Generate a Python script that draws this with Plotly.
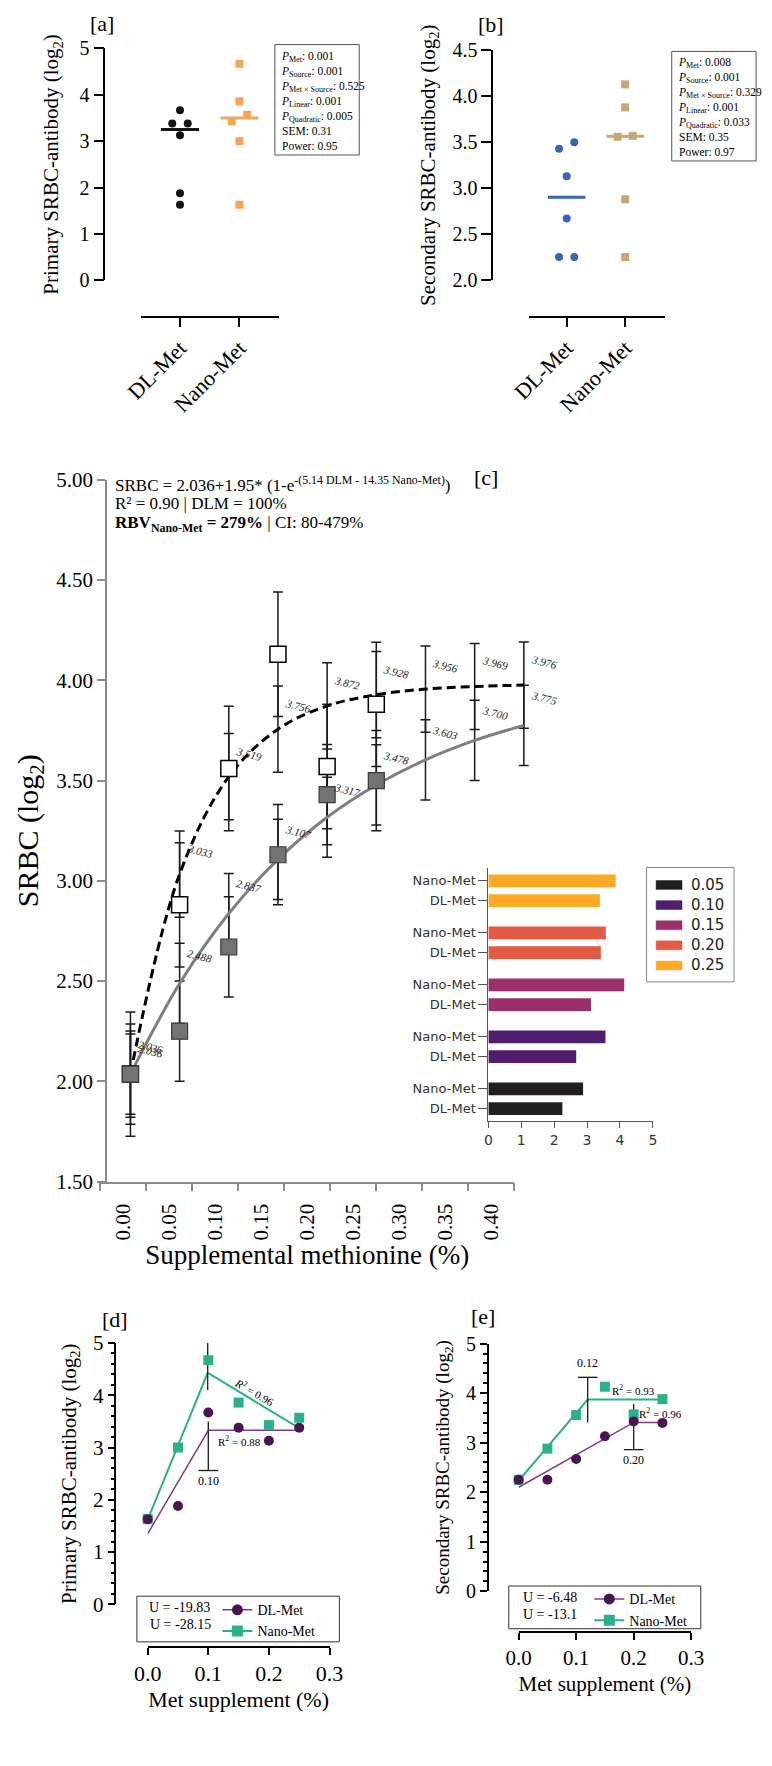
import numpy as np
import plotly.graph_objects as go

W, H = 772, 1766
SERIF = "Liberation Serif"
SANS = "DejaVu Sans"

# ---------------- data ----------------
sources = ["DL-Met", "Nano-Met"]
doses = [0.00, 0.05, 0.10, 0.15, 0.20, 0.25]

# [a] primary SRBC-antibody (log2) by dose
a_dl = [1.63, 1.88, 3.67, 3.38, 3.13, 3.38]
a_nano = [1.63, 3.00, 4.67, 3.86, 3.43, 3.57]
a_stat_names = ["Met", "Source", "Met × Source", "Linear", "Quadratic"]
a_stat_vals = ["0.001", "0.001", "0.525", "0.001", "0.005"]
a_sem, a_power = "0.31", "0.95"

# [b] secondary SRBC-antibody (log2) by dose
b_dl = [2.25, 2.25, 2.67, 3.13, 3.43, 3.50]
b_nano = [2.25, 2.88, 3.56, 4.13, 3.57, 3.88]
b_stat_names = ["Met", "Source", "Met × Source", "Linear", "Quadratic"]
b_stat_vals = ["0.008", "0.001", "0.329", "0.001", "0.033"]
b_sem, b_power = "0.35", "0.97"

# [c] exponential fit
c_obs_doses = [0.00, 0.05, 0.10, 0.15, 0.20, 0.25]
c_dl_obs = [2.036, 2.25, 2.67, 3.13, 3.43, 3.50]
c_nano_obs = [2.036, 2.88, 3.56, 4.13, 3.57, 3.88]
c_fit_doses = [0.00, 0.05, 0.10, 0.15, 0.20, 0.25, 0.30, 0.35, 0.40]
c_tick_labels = ["0.00", "0.05", "0.10", "0.15", "0.20", "0.25", "0.30", "0.35", "0.40"]
c_dl_fit = [2.036, 2.488, 2.837, 3.107, 3.317, 3.478, 3.603, 3.700, 3.775]
c_nano_fit = [2.036, 3.033, 3.519, 3.756, 3.872, 3.928, 3.956, 3.969, 3.976]
c_dl_sem, c_nano_sem = 0.25, 0.31
c_dl_ci, c_nano_ci = 0.20, 0.215

# [c] inset bars
inset_levels = ["0.05", "0.10", "0.15", "0.20", "0.25"]
inset_dl = [2.25, 2.67, 3.12, 3.42, 3.39]
inset_nano = [2.88, 3.56, 4.13, 3.57, 3.87]

# [d] broken-line, primary
d_dl = [1.63, 1.88, 3.67, 3.38, 3.13, 3.38]
d_nano = [1.63, 3.00, 4.67, 3.86, 3.43, 3.57]
d_dl_fit_x = [0.0, 0.10, 0.25]
d_dl_fit_y = [1.35, 3.33, 3.33]
d_nano_fit_x = [0.0, 0.099, 0.25]
d_nano_fit_y = [1.62, 4.43, 3.37]
d_dl_bp = [0.10, 3.50, 2.56]      # breakpoint, bar start, capped end
d_nano_bp = [0.099, 4.10, 5.03]
d_bp_labels = ["0.10", "0.099"]
d_u = ["-19.83", "-28.15"]
d_r2 = ["0.88", "0.96"]

# [e] broken-line, secondary
e_dl = [2.25, 2.25, 2.67, 3.13, 3.43, 3.40]
e_nano = [2.25, 2.88, 3.56, 4.13, 3.57, 3.88]
e_dl_fit_x = [0.0, 0.20, 0.25]
e_dl_fit_y = [2.10, 3.41, 3.41]
e_nano_fit_x = [0.0, 0.12, 0.25]
e_nano_fit_y = [2.23, 3.87, 3.87]
e_dl_bp = [0.20, 3.78, 2.86]
e_nano_bp = [0.12, 3.41, 4.32]
e_bp_labels = ["0.20", "0.12"]
e_u = ["-6.48", "-13.1"]
e_r2 = ["0.96", "0.93"]

# ---------------- style ----------------
A_DL, A_NANO = "#141414", "#f2a65a"
B_DL, B_NANO = "#3a62b5", "#c6a674"
C_GRAY = "#737373"
INSET_COLORS = ["#221e1f", "#4f1f6e", "#9b2f6b", "#e55a44", "#fcaa23"]
PURPLE, PURPLE_LINE, TEAL = "#4a1450", "#7e3d8f", "#2bb08c"
a_dl_jit = [0, 0, 0, -1, 0, 1]
a_nano_jit = [0, 0, 0, 0, -1, 1]
b_dl_jit = [-1, 1, 0, 0, -1, 1]
b_nano_jit = [0, 0, -1, 0, 1, 0]


def fx(p):
    return p / W


def fy(p):
    return 1 - p / H


def domx(a, b):
    return [fx(a), fx(b)]


def domy(top, bottom):
    return [fy(bottom), fy(top)]


def ax(**kw):
    base = dict(showgrid=False, zeroline=False, showline=True, linecolor="black",
                linewidth=1.5, ticks="outside", tickcolor="black", tickwidth=1.5,
                ticklen=8, tickfont=dict(family=SERIF, size=20, color="black"))
    base.update(kw)
    return base


fig = go.Figure()


def add(tr, xa, ya):
    tr.update(xaxis=xa, yaxis=ya)
    if tr.showlegend is None:
        tr.update(showlegend=False)
    fig.add_trace(tr)


# ---------- [a] and [b] dot plots ----------
def dotplot(xa, ya, series):
    for i, (vals, jit, color, sym) in enumerate(series):
        add(go.Scatter(x=[i + 0.13 * j for j in jit], y=vals, mode="markers",
                       marker=dict(symbol=sym, size=8, color=color), cliponaxis=False), xa, ya)
        med = float(np.median(vals))
        add(go.Scatter(x=[i - 0.32, i + 0.32], y=[med, med], mode="lines",
                       line=dict(color=color, width=3), cliponaxis=False), xa, ya)


dotplot("x", "y", [(a_dl, a_dl_jit, A_DL, "circle"), (a_nano, a_nano_jit, A_NANO, "square")])
dotplot("x2", "y2", [(b_dl, b_dl_jit, B_DL, "circle"), (b_nano, b_nano_jit, B_NANO, "square")])

# ---------- [c] ----------
eb = dict(type="constant", color="#1a1a1a", thickness=1.5, width=5)
for xs, ys, v in [(c_fit_doses, c_dl_fit, c_dl_ci), (c_fit_doses, c_nano_fit, c_nano_ci),
                  (c_obs_doses, c_dl_obs, c_dl_sem), (c_obs_doses, c_nano_obs, c_nano_sem)]:
    add(go.Scatter(x=xs, y=ys, mode="markers", marker=dict(size=1, opacity=0),
                   error_y=dict(eb, value=v), cliponaxis=False), "x3", "y3")
add(go.Scatter(x=c_fit_doses, y=c_dl_fit, mode="lines", line=dict(color="#7f7f7f", width=3, shape="spline")), "x3", "y3")
add(go.Scatter(x=c_fit_doses, y=c_nano_fit, mode="lines",
               line=dict(color="black", width=3, shape="spline", dash="9px,5px")), "x3", "y3")
add(go.Scatter(x=c_obs_doses, y=c_nano_obs, mode="markers",
               marker=dict(symbol="square", size=16, color="white", line=dict(color="black", width=1.5))), "x3", "y3")
add(go.Scatter(x=c_obs_doses, y=c_dl_obs, mode="markers",
               marker=dict(symbol="square", size=16, color=C_GRAY, line=dict(color="#3a3a3a", width=1.2))), "x3", "y3")
add(go.Scatter(x=[0.5 + i for i in range(len(c_tick_labels))], y=[None] * len(c_tick_labels),
               mode="markers", marker=dict(opacity=0)), "x4", "y3")

# inset bars
GROUP = 2.635
ytick_pos, ytick_txt = [], []
for g, lvl in enumerate(inset_levels):
    pos = [g * GROUP, g * GROUP + 1]
    ytick_pos += pos
    ytick_txt += sources
    add(go.Bar(x=[inset_dl[g], inset_nano[g]], y=pos, orientation="h", width=0.65,
               marker=dict(color=INSET_COLORS[g], line=dict(width=0)), name=lvl), "x5", "y5")


# ---------- [d] and [e] ----------
def broken(xa, ya, dl, nano, dlx, dly, nx, ny, dlbp, nbp, leg):
    add(go.Scatter(x=dlx, y=dly, mode="lines", line=dict(color=PURPLE_LINE, width=1.5), cliponaxis=False), xa, ya)
    add(go.Scatter(x=nx, y=ny, mode="lines", line=dict(color=TEAL, width=2), cliponaxis=False), xa, ya)
    for bp in (dlbp, nbp):
        add(go.Scatter(x=[bp[0], bp[0]], y=[bp[1], bp[2]], mode="lines",
                       line=dict(color="#1a1a1a", width=1.3), cliponaxis=False), xa, ya)
        add(go.Scatter(x=[bp[0]], y=[bp[2]], mode="markers", cliponaxis=False,
                       marker=dict(symbol="line-ew", size=14, line=dict(color="#1a1a1a", width=1.3))), xa, ya)
    add(go.Scatter(x=doses, y=nano, mode="markers", cliponaxis=False,
                   marker=dict(symbol="square", size=10, color=TEAL)), xa, ya)
    add(go.Scatter(x=doses, y=dl, mode="markers", cliponaxis=False,
                   marker=dict(symbol="circle", size=10, color=PURPLE)), xa, ya)
    add(go.Scatter(x=[None], y=[None], mode="lines+markers", name="DL-Met", legend=leg, showlegend=True,
                   line=dict(color=PURPLE_LINE, width=1.5), marker=dict(symbol="circle", size=11, color=PURPLE)), xa, ya)
    add(go.Scatter(x=[None], y=[None], mode="lines+markers", name="Nano-Met", legend=leg, showlegend=True,
                   line=dict(color=TEAL, width=2), marker=dict(symbol="square", size=11, color=TEAL)), xa, ya)


broken("x6", "y6", d_dl, d_nano, d_dl_fit_x, d_dl_fit_y, d_nano_fit_x, d_nano_fit_y, d_dl_bp, d_nano_bp, "legend2")
broken("x7", "y7", e_dl, e_nano, e_dl_fit_x, e_dl_fit_y, e_nano_fit_x, e_nano_fit_y, e_dl_bp, e_nano_bp, "legend3")

# ---------------- axes ----------------
cat_font = dict(family=SERIF, size=22, color="black")
# [c] data axis geometry (pixel anchors of x=0 and x=0.40)
c_x0_px, c_x40_px, c_left, c_right = 117.3, 527.7, 85.7, 560.0
c_ppu = (c_x40_px - c_x0_px) / 0.40
c_range = [-(c_x0_px - c_left) / c_ppu, 0.40 + (c_right - c_x40_px) / c_ppu]

fig.update_layout(
    xaxis=ax(domain=domx(128, 272), range=[-0.661, 1.661], anchor="free", position=fy(309),
             tickvals=[0, 1], ticktext=sources, tickangle=-45, ticklen=9, tickfont=cat_font),
    yaxis=ax(domain=domy(37, 272), range=[0, 5], anchor="free", position=fx(90), dtick=1, ticklen=10,
             title=dict(text="Primary SRBC-antibody (log<sub>2</sub>)", font=dict(family=SERIF, size=21), standoff=14)),
    xaxis2=ax(domain=domx(532.7, 675), range=[-0.65, 1.68], anchor="free", position=fy(309),
              tickvals=[0, 1], ticktext=sources, tickangle=-45, ticklen=9, tickfont=cat_font),
    yaxis2=ax(domain=domy(39, 271.7), range=[2.0, 4.5], anchor="free", position=fx(494.7), dtick=0.5,
              tickformat=".1f", ticklen=10,
              title=dict(text="Secondary SRBC-antibody (log<sub>2</sub>)", font=dict(family=SERIF, size=21), standoff=10)),
    xaxis3=dict(domain=domx(c_left, c_right), range=c_range, anchor="y3", visible=False),
    yaxis3=ax(domain=domy(474.2, 1185.7), range=[1.5, 5.0], anchor="free", position=fx(91.7),
              tick0=1.5, dtick=0.5, tickformat=".2f", linecolor="#8a8a8a", tickcolor="#8a8a8a",
              tickfont=dict(family=SERIF, size=21, color="black"),
              title=dict(text="SRBC (log<sub>2</sub>)", font=dict(family=SERIF, size=30), standoff=8)),
    xaxis4=ax(domain=domx(85.7, 517.7), range=[0, 9], anchor="y3",
              tickvals=[0.5 + i for i in range(len(c_tick_labels))], ticktext=c_tick_labels,
              ticks="", tickangle=-90, linecolor="#8a8a8a", ticklabelstandoff=12,
              tickfont=dict(family=SERIF, size=21, color="black"),
              minor=dict(tickvals=list(range(len(c_tick_labels) + 1)), ticks="outside", ticklen=8,
                         tickcolor="#8a8a8a", tickwidth=1.5),
              title=dict(text="Supplemental methionine (%)", font=dict(family=SERIF, size=27), standoff=6)),
    xaxis5=ax(domain=domx(490.7, 662.3), range=[0, 5], anchor="y5", dtick=1, linecolor="#555", tickcolor="#555",
              linewidth=1, tickwidth=1, ticklen=6, tickfont=dict(family=SANS, size=14, color="#333")),
    yaxis5=ax(domain=domy(868, 1124.3), range=[-0.63, 12.185], anchor="x5", tickvals=ytick_pos,
              ticktext=ytick_txt, linecolor="#555", tickcolor="#555", linewidth=1, tickwidth=1, ticklen=9,
              tickfont=dict(family=SANS, size=13, color="#333")),
    xaxis6=ax(domain=domx(135.3, 325), range=[0, 0.3], anchor="free", position=fy(1657.3), dtick=0.1,
              tickformat=".1f", ticklen=7, tickfont=dict(family=SERIF, size=22, color="black"),
              title=dict(text="Met supplement (%)", font=dict(family=SERIF, size=22), standoff=6)),
    yaxis6=ax(domain=domy(1349.3, 1614.3), range=[0, 5], anchor="free", position=fx(101.7), dtick=1,
              ticklen=7, tickfont=dict(family=SERIF, size=21, color="black"),
              minor=dict(dtick=0.2, ticks="outside", ticklen=4, tickcolor="black"),
              title=dict(text="Primary SRBC-antibody (log<sub>2</sub>)", font=dict(family=SERIF, size=21), standoff=10)),
    xaxis7=ax(domain=domx(522.3, 702.3), range=[0, 0.3], anchor="free", position=fy(1642.3), dtick=0.1,
              tickformat=".1f", ticklen=7, tickfont=dict(family=SERIF, size=21, color="black"),
              title=dict(text="Met supplement (%)", font=dict(family=SERIF, size=21), standoff=6)),
    yaxis7=ax(domain=domy(1350, 1601), range=[0, 5], anchor="free", position=fx(490), dtick=1,
              ticklen=7, tickfont=dict(family=SERIF, size=20, color="black"),
              minor=dict(dtick=0.2, ticks="outside", ticklen=4, tickcolor="black"),
              title=dict(text="Secondary SRBC-antibody (log<sub>2</sub>)", font=dict(family=SERIF, size=19), standoff=10)),
)

# ---------------- legends ([d], [e]) ----------------
fig.update_layout(
    showlegend=True,
    legend2=dict(x=fx(208), y=fy(1604), xanchor="left", yanchor="top", borderwidth=0,
                 bgcolor="rgba(0,0,0,0)", font=dict(family=SERIF, size=14, color="black"), tracegroupgap=0),
    legend3=dict(x=fx(596), y=fy(1593), xanchor="left", yanchor="top", borderwidth=0,
                 bgcolor="rgba(0,0,0,0)", font=dict(family=SERIF, size=14, color="black"), tracegroupgap=0),
)

# ---------------- annotations & shapes ----------------
anns, shapes = [], []


def ann(text, x, y, size, xanchor="center", yanchor="middle", family=SERIF, color="black", **kw):
    anns.append(dict(text=text, x=fx(x), y=fy(y), xref="paper", yref="paper", showarrow=False,
                     xanchor=xanchor, yanchor=yanchor, font=dict(family=family, size=size, color=color), **kw))


def box(x0, y0, x1, y1, color="#333", width=1, fill="rgba(0,0,0,0)"):
    shapes.append(dict(type="rect", xref="paper", yref="paper", x0=fx(x0), x1=fx(x1), y0=fy(y1), y1=fy(y0),
                       line=dict(color=color, width=width), fillcolor=fill))


def statbox(names, vals, sem, power, x0, y0, x1, y1):
    box(x0, y0, x1, y1, color="#555")
    lines = [f"<i>P</i><sub>{n}</sub>: {v}" for n, v in zip(names, vals)] + [f"SEM: {sem}", f"Power: {power}"]
    ann("<br>".join(lines), x0 + 4, y0 + 3, 11.5, xanchor="left", yanchor="top", align="left")


statbox(a_stat_names, a_stat_vals, a_sem, a_power, 268, 33, 356, 145)
statbox(b_stat_names, b_stat_vals, b_sem, b_power, 682, 40, 770, 151)
ann("[a]", 88, 12, 22)
ann("[b]", 493, 13, 22)
ann("[c]", 488, 472, 22)
ann("[d]", 101.7, 1326, 22)
ann("[e]", 485, 1322, 22)

ann("SRBC = 2.036+1.95* (1-e<sup>-(5.14 DLM - 14.35 Nano-Met)</sup>)", 99, 478, 17, xanchor="left")
ann("R² = 0.90 | DLM = 100%", 99, 498, 17, xanchor="left")
ann("<b>RBV<sub>Nano-Met</sub> = 279%</b> | CI: 80-479%", 99, 519, 17, xanchor="left")

# inset legend (key for dose levels)
box(655.7, 867.3, 747, 983.3, color="#888")
for g, lvl in enumerate(inset_levels):
    yc = 885 + g * 20.4
    box(665.7, yc - 4.5, 692.7, yc + 4.5, color=INSET_COLORS[g], width=0.5, fill=INSET_COLORS[g])
    ann(lvl, 700, yc, 15, xanchor="left", family=SANS, color="#222")

# fitted value labels on [c]
for xs, ys, ysh in [(c_fit_doses, c_nano_fit, 23), (c_fit_doses, c_dl_fit, 27)]:
    for xv, yv in zip(xs, ys):
        anns.append(dict(text=f"<i>{yv:.3f}</i>", x=xv, y=yv, xref="x3", yref="y3", showarrow=False,
                         xshift=20, yshift=ysh, textangle=14,
                         font=dict(family=SERIF, size=11, color="#222")))

# [d] / [e] labels
for xa, ya, bps, labs in [("x6", "y6", [d_dl_bp, d_nano_bp], d_bp_labels),
                          ("x7", "y7", [e_dl_bp, e_nano_bp], e_bp_labels)]:
    for bp, lab in zip(bps, labs):
        up = bp[2] > bp[1]
        anns.append(dict(text=lab, x=bp[0], y=bp[2], xref=xa, yref=ya, showarrow=False,
                         yshift=14 if up else -10, font=dict(family=SERIF, size=12, color="black")))

ann(f"<i>R</i><sup>2</sup> = {d_r2[1]}", 247, 1399, 11, textangle=30)
ann(f"R<sup>2</sup> = {d_r2[0]}", 231, 1449, 11)
ann(f"R<sup>2</sup> = {e_r2[1]}", 642, 1397, 11)
ann(f"R<sup>2</sup> = {e_r2[0]}", 670, 1420, 11)

box(124, 1606, 335.3, 1652.3)
ann(f"U = {d_u[0]}", 135, 1617, 14, xanchor="left")
ann(f"U = {d_u[1]}", 136, 1635, 14, xanchor="left")
box(512, 1595.7, 712.3, 1639)
ann(f"U = {e_u[0]}", 525, 1607, 14, xanchor="left")
ann(f"U = {e_u[1]}", 525, 1625, 14, xanchor="left")

fig.update_layout(annotations=anns, shapes=shapes, width=W, height=H,
                  margin=dict(l=0, r=0, t=0, b=0), paper_bgcolor="white", plot_bgcolor="rgba(0,0,0,0)",
                  font=dict(family=SERIF, color="black"), barmode="overlay")

fig.write_html("out.html")
